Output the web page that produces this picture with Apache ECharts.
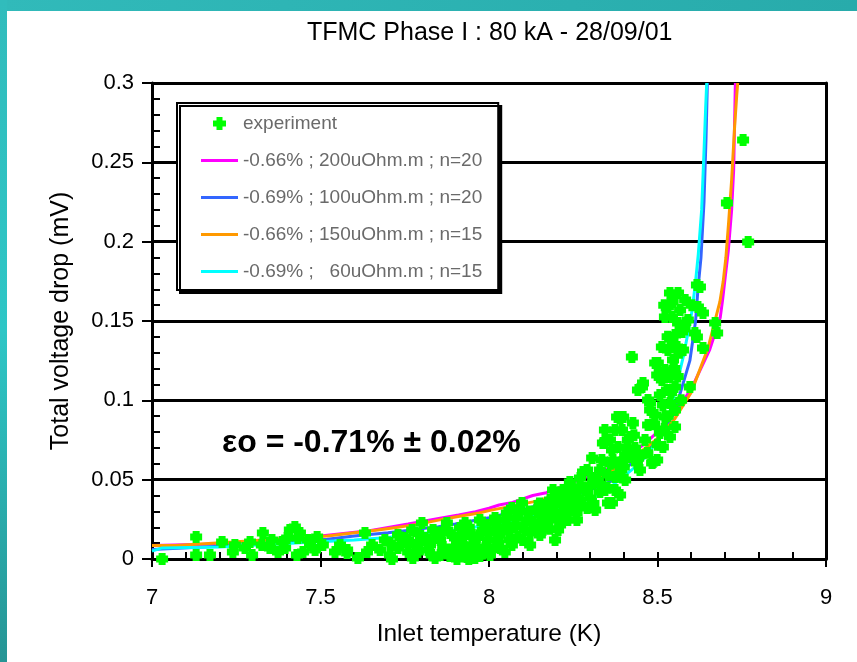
<!DOCTYPE html>
<html><head><meta charset="utf-8">
<script src="https://cdn.jsdelivr.net/npm/echarts/dist/echarts.min.js"></script>
<style>html,body{margin:0;padding:0;background:#fff}#c{width:857px;height:662px}</style>
</head><body><div id="c"></div>
<script>
const titleText = 'TFMC Phase I : 80 kA - 28/09/01';
const xAxisName = 'Inlet temperature (K)';
const yAxisName = 'Total voltage drop (mV)';
const annotationText = 'εo = -0.71% ± 0.02%';
const xTickLabels = ['7', '7.5', '8', '8.5', '9'];
const yTickLabels = ['0', '0.05', '0.1', '0.15', '0.2', '0.25', '0.3'];
const seriesNames = ['experiment', '-0.66% ; 200uOhm.m ; n=20', '-0.69% ; 100uOhm.m ; n=20', '-0.66% ; 150uOhm.m ; n=15', '-0.69% ;   60uOhm.m ; n=15'];

const experiment = [
[7.030,0.000],[7.131,0.0139],[7.131,0.0025],[7.172,0.0025],[7.208,0.0107],[7.246,0.0088],[7.240,0.0044],
[7.291,0.0107],[7.297,0.0025],[7.329,0.0164],[7.326,0.0088],[7.374,0.0044],[7.386,0.0107],[7.401,0.0132],
[7.424,0.0202],[7.433,0.0132],[7.448,0.0044],[7.430,0.0025],[7.469,0.0088],[7.490,0.0139],[7.507,0.0088],
[7.543,0.0044],[7.579,0.0038],[7.409,0.0183],[7.439,0.0164],
[7.276,0.0069],[7.350,0.0069],[7.395,0.0069],[7.484,0.0057],[7.558,0.0088],[7.356,0.0120],[7.463,0.0120],
[7.579,0.0057],[7.611,0.0006],[7.632,0.0164],[7.638,0.0044],[7.706,0.0101],[7.712,0.000],[7.706,0.0025],
[7.730,0.0151],[7.760,0.0044],[7.772,0.0183],[7.774,0.0006],[7.801,0.0227],[7.795,0.0101],[7.810,0.0132],
[7.834,0.0183],[7.846,0.0132],[7.864,0.0076],[7.875,0.0227],[7.884,0.0164],[7.899,0.0076],[7.935,0.0013],
[7.929,0.0227],[7.950,0.0151],[7.964,0.0076],[7.982,0.0183],[7.997,0.0120],[8.018,0.0258],[8.024,0.0120],
[8.024,0.0202],[7.914,0.0044],[7.855,0.0025],[7.958,0.0006],[7.825,0.0088],[7.973,0.0019],[7.884,0.0019],[7.730,0.0069],
[7.653,0.0088],[7.677,0.0057],[7.691,0.0120],[7.736,0.0088],[7.751,0.0132],[7.780,0.0088],[7.789,0.0044],
[7.819,0.0057],[7.855,0.0120],[7.869,0.0183],[7.899,0.0132],[7.914,0.0195],[7.920,0.0088],[7.944,0.0057],
[7.958,0.0120],[7.973,0.0246],[7.988,0.0069],[8.003,0.0025],[7.890,0.0025],[7.840,0.0006],
[7.760,0.0120],[7.790,0.0160],[7.820,0.0120],[7.830,0.0025],[7.860,0.0165],[7.870,0.0040],[7.905,0.0100],
[7.925,0.0140],[7.940,0.0200],[7.950,0.0090],[7.970,0.0150],[7.990,0.0215],[8.000,0.0165],[8.010,0.0060],
[7.980,0.0035],[7.905,0.0000],[7.940,0.0000],
[8.027,0.0101],[8.018,0.0233],[8.053,0.0290],[8.062,0.0183],[8.086,0.0139],[8.098,0.0353],[8.113,0.0246],
[8.122,0.0164],[8.142,0.0309],[8.160,0.0183],[8.175,0.0265],[8.190,0.0353],[8.211,0.0214],[8.226,0.0391],
[8.240,0.0485],[8.231,0.0290],[8.261,0.0246],[8.264,0.0384],[8.279,0.0548],[8.270,0.0454],[8.291,0.0321],
[8.306,0.0636],[8.309,0.0510],[8.329,0.0561],[8.329,0.0422],[8.353,0.0353],[8.344,0.0737],[8.374,0.0813],
[8.368,0.0624],[8.374,0.0517],[8.389,0.0888],[8.383,0.0706],[8.033,0.0069],[8.068,0.0088],[8.122,0.0088],
[8.047,0.0044],[8.190,0.0435],
[8.039,0.0170],[8.047,0.0246],[8.077,0.0214],[8.068,0.0321],[8.092,0.0296],[8.107,0.0183],[8.131,0.0233],
[8.151,0.0277],[8.166,0.0340],[8.181,0.0246],[8.196,0.0296],[8.205,0.0183],[8.217,0.0340],[8.234,0.0246],
[8.246,0.0372],[8.255,0.0309],[8.276,0.0340],[8.285,0.0435],[8.300,0.0384],[8.315,0.0309],[8.151,0.0151],[8.196,0.0120],
[8.030,0.0150],[8.050,0.0200],[8.060,0.0120],[8.080,0.0260],[8.100,0.0200],[8.100,0.0120],[8.120,0.0300],
[8.135,0.0190],[8.150,0.0350],[8.155,0.0220],[8.170,0.0310],[8.180,0.0190],[8.200,0.0270],[8.210,0.0360],
[8.220,0.0250],[8.240,0.0330],[8.250,0.0420],[8.260,0.0290],[8.270,0.0370],[8.280,0.0450],[8.300,0.0460],
[8.310,0.0350],[8.330,0.0470],[8.350,0.0450],[8.360,0.0600],[8.380,0.0520],[8.400,0.0580],[8.410,0.0700],
[8.430,0.0780],[8.450,0.0650],
[8.323,0.0498],[8.335,0.0624],[8.353,0.0529],[8.365,0.0687],[8.383,0.0592],[8.404,0.0655],[8.412,0.0750],
[8.433,0.0700],[8.448,0.0561],[8.374,0.0435],[8.404,0.0498],[8.344,0.0813],
[8.338,0.0731],[8.398,0.0895],[8.418,0.0769],[8.427,0.0857],[8.395,0.0611],[8.424,0.1273],
[8.454,0.1084],[8.478,0.0939],[8.472,0.1002],[8.501,0.1235],[8.513,0.1128],[8.522,0.1191],[8.528,0.1065],
[8.513,0.1336],[8.537,0.1676],[8.561,0.1676],[8.531,0.1588],[8.522,0.1525],[8.543,0.1525],[8.561,0.1487],
[8.573,0.1430],[8.546,0.1348],[8.576,0.1317],[8.546,0.1254],[8.537,0.1147],[8.537,0.0983],[8.552,0.1084],
[8.522,0.0895],[8.552,0.0939],[8.596,0.1084],[8.620,0.1588],[8.617,0.1727],[8.611,0.1424],[8.635,0.1550],
[8.671,0.1487],[8.677,0.1424],[8.635,0.1330],[8.552,0.0832],[8.507,0.0794],[8.537,0.0769],[8.487,0.0611],
[8.516,0.0706],[8.626,0.1714],[8.617,0.1399],[8.558,0.1336],[8.706,0.2243],[8.754,0.2640],[8.769,0.1998],
[8.493,0.1235],[8.457,0.1109],[8.442,0.1065],[8.478,0.0983],[8.380,0.0895],[8.395,0.0813],[8.359,0.0750],
[8.291,0.0561],[8.270,0.0510],[8.240,0.0454],[8.220,0.0435],[8.202,0.0403],[8.181,0.0372],
[8.365,0.0353],[8.418,0.0643],[8.499,0.0624],[8.484,0.0605],[8.439,0.0605],[8.395,0.0517],[8.344,0.0435],[8.389,0.0403],
[8.463,0.0750],[8.472,0.0845],[8.493,0.0907],[8.507,0.1033],[8.516,0.0970],[8.499,0.1160],[8.531,0.1317],
[8.552,0.1411],[8.567,0.1569],[8.582,0.1632],[8.590,0.1506],[8.602,0.1600],
[8.470,0.0670],[8.490,0.0850],[8.500,0.0720],[8.520,0.0820],[8.530,0.0900],[8.540,0.1050],[8.550,0.1200],
[8.560,0.1150],[8.565,0.1300],[8.570,0.1000],[8.580,0.1450],[8.530,0.1400],[8.520,0.1600],[8.545,0.1620]
];

const fit200n20 = [[7.00,0.0085],[7.20,0.0095],[7.30,0.0115],[7.50,0.0145],[7.65,0.018],[7.76,0.022],[7.855,0.0257],[7.91,0.0277],[7.96,0.0298],[8.00,0.032],[8.03,0.034],[8.07,0.0357],[8.13,0.040],[8.17,0.0418],[8.255,0.0487],[8.28,0.051],[8.356,0.0573],[8.425,0.0668],[8.457,0.0718],[8.49,0.078],[8.55,0.092],[8.60,0.107],[8.655,0.132],[8.686,0.152],[8.693,0.163],[8.70,0.176],[8.71,0.194],[8.72,0.22],[8.726,0.245],[8.731,0.3]];
const fit100n20 = [[7.00,0.006],[7.20,0.008],[7.40,0.0105],[7.52,0.0124],[7.60,0.0145],[7.70,0.0166],[7.77,0.0183],[7.85,0.0204],[7.90,0.022],[8.00,0.026],[8.10,0.031],[8.20,0.037],[8.30,0.0435],[8.36,0.0487],[8.43,0.0615],[8.46,0.0665],[8.50,0.074],[8.55,0.092],[8.596,0.125],[8.613,0.15],[8.62,0.17],[8.629,0.19],[8.638,0.225],[8.644,0.265],[8.648,0.3]];
const fit150n15 = [[7.00,0.0085],[7.07,0.0085],[7.24,0.0107],[7.52,0.0145],[7.60,0.0166],[7.67,0.0183],[7.73,0.020],[7.80,0.0223],[7.85,0.0245],[7.90,0.0265],[7.97,0.029],[8.00,0.0305],[8.13,0.036],[8.20,0.040],[8.29,0.047],[8.36,0.055],[8.42,0.0636],[8.45,0.0676],[8.47,0.0708],[8.50,0.076],[8.55,0.088],[8.60,0.105],[8.65,0.133],[8.685,0.162],[8.695,0.175],[8.703,0.19],[8.711,0.212],[8.72,0.239],[8.729,0.273],[8.735,0.292],[8.738,0.3]];
const fit60n15 = [[7.00,0.005],[7.03,0.007],[7.20,0.0075],[7.47,0.0105],[7.60,0.012],[7.70,0.0135],[7.80,0.016],[7.90,0.0183],[8.04,0.0227],[8.15,0.028],[8.25,0.034],[8.31,0.039],[8.37,0.047],[8.44,0.059],[8.47,0.0655],[8.50,0.075],[8.54,0.095],[8.576,0.127],[8.59,0.142],[8.603,0.157],[8.613,0.175],[8.621,0.192],[8.631,0.22],[8.638,0.257],[8.643,0.285],[8.646,0.3]];

const lineColors = ['#ff00ff', '#3366ff', '#ff9900', '#00ffff'];
const fits = [fit200n20, fit100n20, fit150n15, fit60n15];

const FONT = '"Liberation Sans", Arial, sans-serif';
const markerPath = 'path://M2.5,0H9.5V2.5H12V9.5H9.5V12H2.5V9.5H0V2.5H2.5Z';
const legendMarker = 'path://M0,0M19,19M6.5,3H12.5V6.5H16V12.5H12.5V16H6.5V12.5H3V6.5H6.5Z';
const legendLine = 'path://M0,0M37,19M0,8H37V11H0Z';

const chart = echarts.init(document.getElementById('c'), null, {renderer: 'canvas'});

const lineSeries = fits.map((d, i) => ({
  name: seriesNames[i + 1], type: 'line', data: d, symbol: 'none', showSymbol: false,
  lineStyle: {color: lineColors[i], width: 3}, itemStyle: {color: lineColors[i]},
  z: 2, animation: false, silent: true
}));

chart.setOption({
  animation: false,
  backgroundColor: '#ffffff',
  title: {text: titleText, left: 302, top: 16,
    textStyle: {fontFamily: FONT, fontSize: 25, fontWeight: 'normal', color: '#000'}},
  grid: {left: 152, right: 31, top: 83, bottom: 103},
  legend: {
    orient: 'vertical', left: 177, top: 103, padding: [11, 16, 9, 24],
    itemGap: 18, itemWidth: 37, itemHeight: 19, selectedMode: false,
    backgroundColor: '#fff', borderColor: '#000', borderWidth: 2,
    shadowColor: '#000', shadowOffsetX: 3, shadowOffsetY: 3, shadowBlur: 0,
    textStyle: {fontFamily: FONT, fontSize: 19, color: '#6a6a6a', lineHeight: 19},
    data: [{name: seriesNames[0], icon: legendMarker}].concat(
      seriesNames.slice(1).map((n, i) => ({name: n, icon: legendLine, itemStyle: {color: lineColors[i], borderWidth: 0}})))
  },
  xAxis: [{
    type: 'value', min: 7, max: 9, interval: 0.5, position: 'bottom',
    axisLine: {onZero: false, lineStyle: {color: '#000', width: 3}},
    axisTick: {inside: false, length: 8, lineStyle: {color: '#000', width: 2}},
    axisLabel: {margin: 28, fontFamily: FONT, fontSize: 22, color: '#000',
      formatter: v => xTickLabels[Math.round((v - 7) / 0.5)]},
    splitLine: {show: false},
    name: xAxisName, nameLocation: 'middle', nameGap: 63,
    nameTextStyle: {fontFamily: FONT, fontSize: 24.5, color: '#000'}
  }, {
    type: 'value', min: 7, max: 9, interval: 0.5, position: 'bottom',
    axisLine: {show: false, onZero: false},
    axisTick: {inside: true, length: 7, lineStyle: {color: '#000', width: 2}},
    minorTick: {show: true, splitNumber: 5, length: 7, lineStyle: {color: '#000', width: 2}},
    axisLabel: {show: false}, splitLine: {show: false}
  }],
  yAxis: [{
    type: 'value', min: 0, max: 0.3, interval: 0.05, position: 'left',
    axisLine: {show: true, onZero: false, lineStyle: {color: '#000', width: 3}},
    axisTick: {inside: false, length: 10, lineStyle: {color: '#000', width: 2}},
    axisLabel: {margin: 18, fontFamily: FONT, fontSize: 22, color: '#000',
      formatter: v => yTickLabels[Math.round(v / 0.05)]},
    splitLine: {show: true, lineStyle: {color: '#000', width: 3}},
    name: yAxisName, nameLocation: 'middle', nameGap: 78, nameRotate: 90,
    nameTextStyle: {fontFamily: FONT, fontSize: 25, color: '#000'}
  }, {
    type: 'value', min: 0, max: 0.3, interval: 0.05, position: 'left',
    axisLine: {show: false, onZero: false},
    axisTick: {inside: true, length: 8, lineStyle: {color: '#000', width: 2}},
    minorTick: {show: true, splitNumber: 5, length: 8, lineStyle: {color: '#000', width: 2}},
    axisLabel: {show: false}, splitLine: {show: false}
  }, {
    type: 'value', min: 0, max: 0.3, interval: 0.05, position: 'right',
    axisLine: {show: true, onZero: false, lineStyle: {color: '#000', width: 3}},
    axisTick: {show: false}, axisLabel: {show: false}, splitLine: {show: false}
  }],
  graphic: [
    {type: 'rect', left: 0, top: 0, z: 100, shape: {width: 857, height: 11},
      style: {fill: new echarts.graphic.LinearGradient(0, 0, 1, 0, [{offset: 0, color: '#31baba'}, {offset: 1, color: '#28abab'}])}},
    {type: 'rect', left: 0, top: 0, z: 100, shape: {width: 7, height: 662},
      style: {fill: new echarts.graphic.LinearGradient(0, 0, 0, 1, [{offset: 0, color: '#31bcbc'}, {offset: 0.5, color: '#2ec6c6'}, {offset: 1, color: '#269595'}])}},
    {type: 'text', left: 222, top: 427, z: 100,
      style: {text: annotationText, font: 'bold 32px "Liberation Sans", Arial, sans-serif', fill: '#000'}}
  ],
  series: lineSeries.concat([{
    name: seriesNames[0], type: 'scatter', data: experiment,
    symbol: markerPath, symbolSize: 12,
    itemStyle: {color: '#00ff00', opacity: 1}, z: 3, silent: true
  }])
});
</script>
</body></html>
